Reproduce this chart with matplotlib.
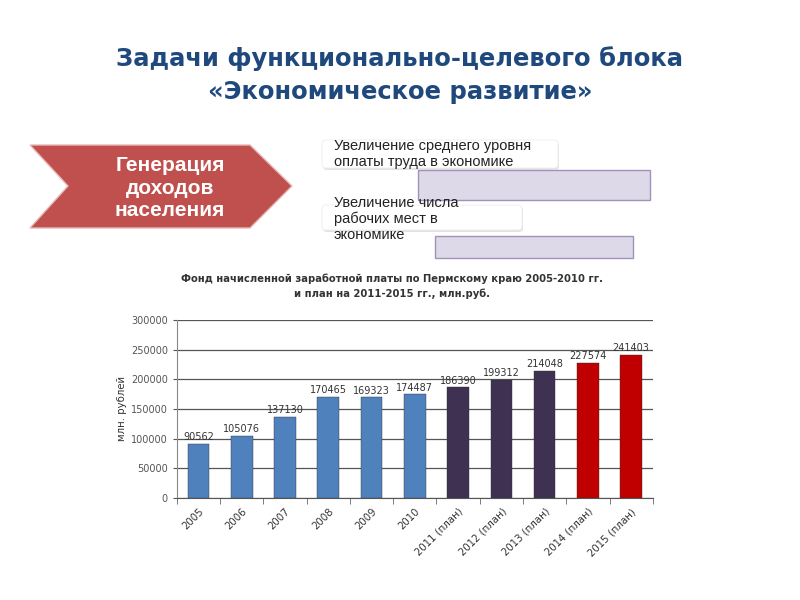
import matplotlib.pyplot as plt
from matplotlib.patches import Polygon, FancyBboxPatch, Rectangle

years = ['2005', '2006', '2007', '2008', '2009', '2010',
         '2011 (план)', '2012 (план)', '2013 (план)', '2014 (план)', '2015 (план)']
values = [90562, 105076, 137130, 170465, 169323, 174487,
          186390, 199312, 214048, 227574, 241403]
bar_colors = ['#4F81BD'] * 6 + ['#3F3151'] * 3 + ['#C00000'] * 2

fig = plt.figure(figsize=(8, 6), dpi=100)

# slide title
fig.text(0.5, 0.875, 'Задачи функционально-целевого блока\n«Экономическое развитие»',
         ha='center', va='center', fontsize=17.5, fontweight='bold',
         color='#1F497D', linespacing=1.45)

# chevron + boxes drawn in pixel coords of an overlay axes
ov = fig.add_axes([0, 0, 1, 1])
ov.set_xlim(0, 800)
ov.set_ylim(600, 0)
ov.axis('off')

chev = Polygon([(30, 145), (250, 145), (292, 186), (250, 228), (30, 228), (68, 186)],
               closed=True, facecolor='#C0504D', edgecolor='#E6B9B8', lw=1)
ov.add_patch(chev)
ov.text(170, 188, 'Генерация\nдоходов\nнаселения', ha='center', va='center',
        color='white', fontsize=15, fontweight='bold', linespacing=1.22,
        family='Liberation Sans')

ov.add_patch(Rectangle((418, 170), 232, 30, facecolor='#DDD9E8', edgecolor='#A092BA', lw=1))
ov.add_patch(Rectangle((435, 236), 198, 22, facecolor='#DDD9E8', edgecolor='#A092BA', lw=1))

for x, y, w, h in [(322, 140, 236, 28), (322, 205, 200, 25)]:
    ov.add_patch(FancyBboxPatch((x + 1, y + 2), w, h, boxstyle='round,pad=0,rounding_size=4',
                                facecolor='#D0D0D0', edgecolor='none', alpha=0.6))
    ov.add_patch(FancyBboxPatch((x, y), w, h, boxstyle='round,pad=0,rounding_size=4',
                                facecolor='white', edgecolor='#EEEEEE', lw=0.6))

ov.text(334, 154, 'Увеличение среднего уровня\nоплаты труда в экономике', ha='left', va='center',
        fontsize=10.5, color='#222222', linespacing=1.1, family='Liberation Sans')
ov.text(334, 219, 'Увеличение числа\nрабочих мест в\nэкономике', ha='left', va='center',
        fontsize=10.5, color='#222222', linespacing=1.15, family='Liberation Sans')

# chart title
fig.text(0.49, 0.523, 'Фонд начисленной заработной платы по Пермскому краю 2005-2010 гг.\n'
         'и план на 2011-2015 гг., млн.руб.', ha='center', va='center',
         fontsize=7.2, fontweight='bold', color='#333333', linespacing=1.45)

ax = fig.add_axes([0.221, 0.17, 0.595, 0.297])
x = range(len(years))
bars = ax.bar(x, values, width=0.5, color=bar_colors, edgecolor='#333333', linewidth=0.3, zorder=3)
for xi, v in zip(x, values):
    ax.text(xi, v + 3000, str(v), ha='center', va='bottom', fontsize=7, color='#333333', zorder=4)

ax.set_xlim(-0.5, len(years) - 0.5)
ax.set_ylim(0, 300000)
ax.set_yticks(range(0, 300001, 50000))
ax.tick_params(axis='y', labelsize=7, colors='#555555', length=3)
ax.set_xticks(list(x))
ax.set_xticklabels(years, rotation=45, ha='right', rotation_mode='anchor', fontsize=7.3, color='#333333')
ax.tick_params(axis='x', length=0, pad=6)
ax.set_xticks([i + 0.5 for i in range(-1, len(years))], minor=True)
ax.tick_params(axis='x', which='minor', length=4, color='#666666')
ax.grid(axis='y', color='#555555', linewidth=0.9, zorder=0)
ax.spines['top'].set_visible(False)
ax.spines['right'].set_visible(False)
ax.spines['left'].set_color('#888888')
ax.spines['bottom'].set_color('#555555')
ax.set_ylabel('млн. рублей', fontsize=7.3, color='#333333', labelpad=3)

fig.savefig('out.png', dpi=100)
